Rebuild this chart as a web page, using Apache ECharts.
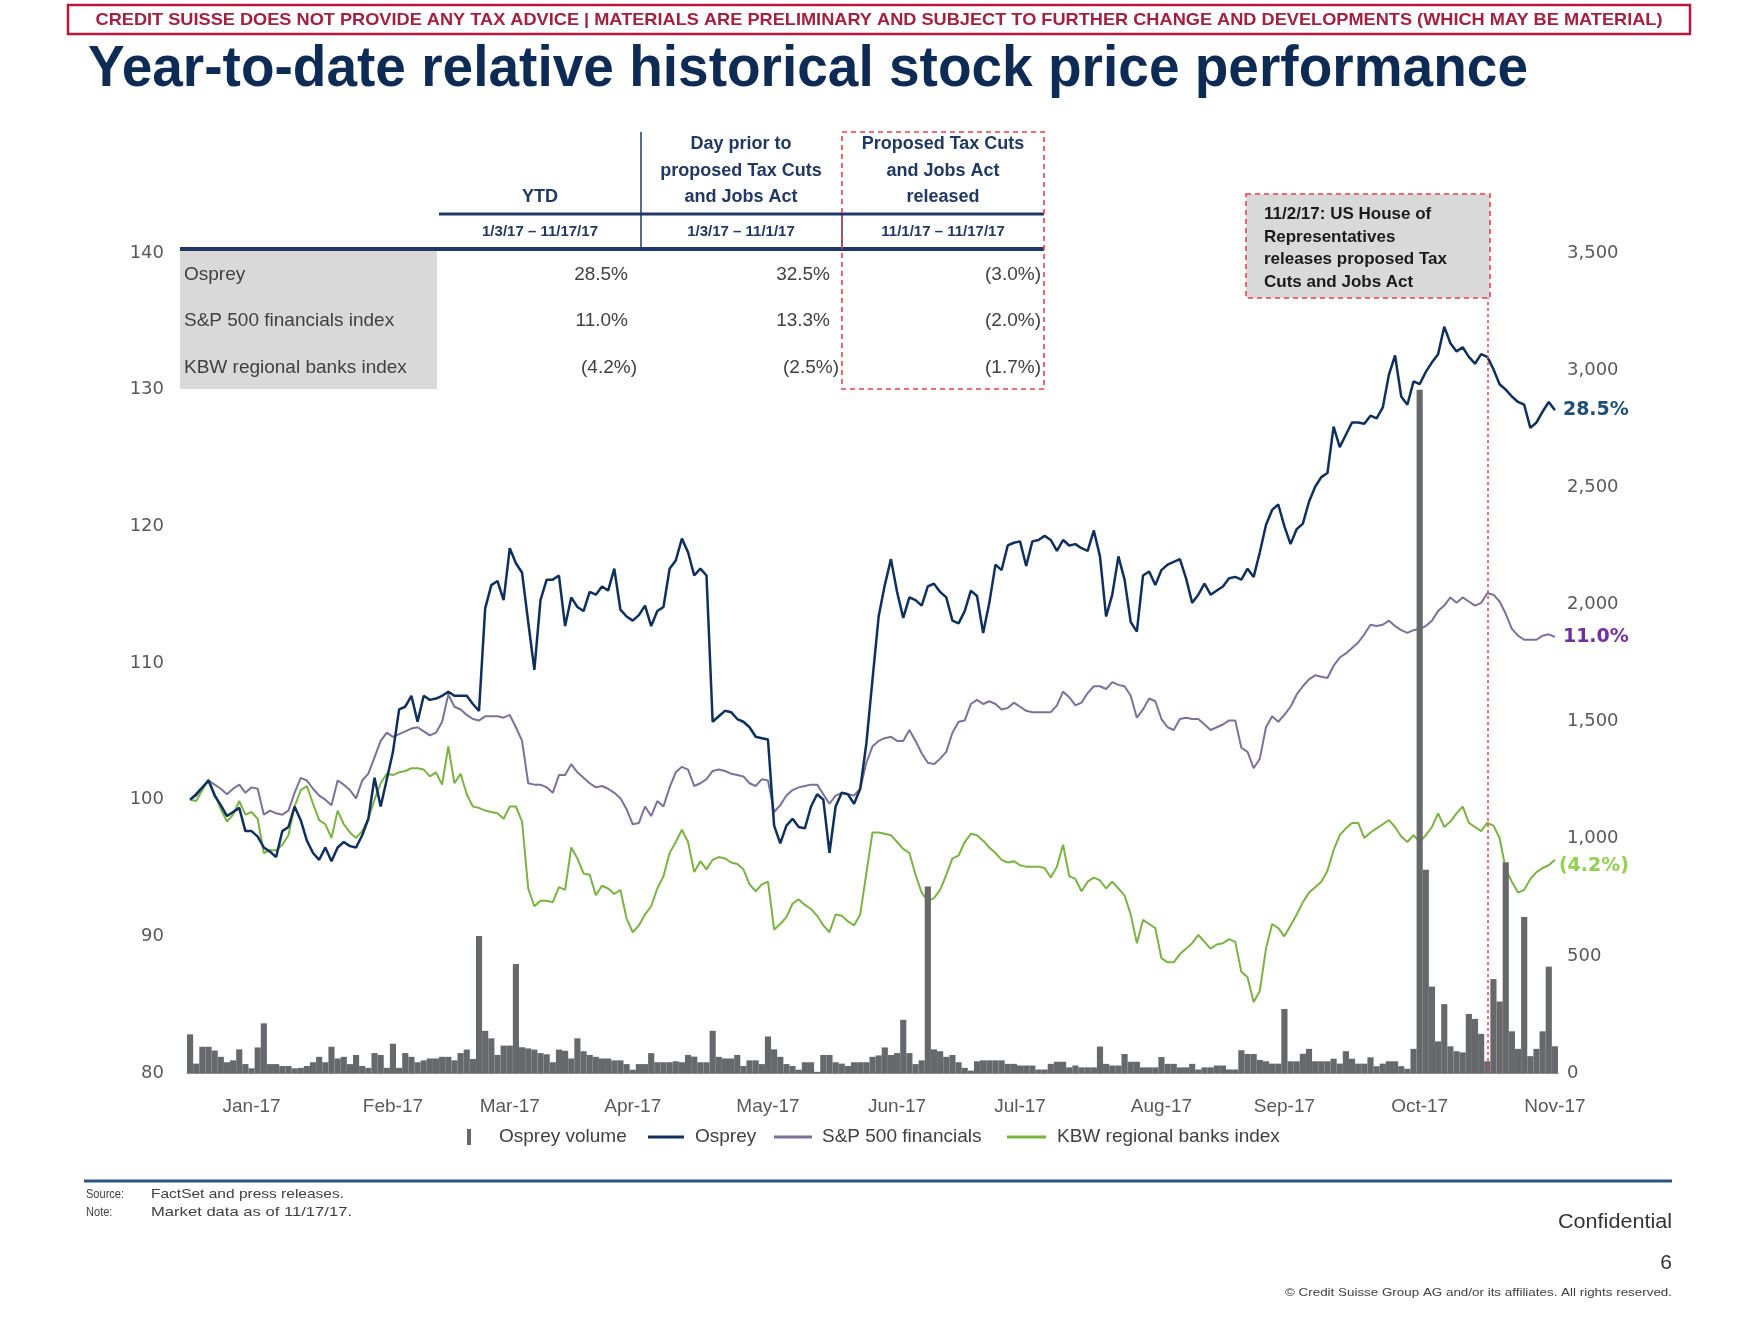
<!DOCTYPE html>
<html><head><meta charset="utf-8">
<script src="https://cdn.jsdelivr.net/npm/echarts@6/dist/echarts.min.js"></script>
<style>html,body{margin:0;padding:0;background:#fff}#c{width:1759px;height:1320px}</style>
</head><body><div id="c"></div>
<script>
// ---------------- DATA ----------------
const holidays = ['2017-01-16','2017-02-20','2017-04-14','2017-05-29','2017-07-04','2017-09-04'];
const startDate = '2017-01-03', endDate = '2017-11-17';
const eventDate = '2017-11-02';
const monthNames = ['Jan','Feb','Mar','Apr','May','Jun','Jul','Aug','Sep','Oct','Nov','Dec'];

const ospreyVals = [
100.0,100.4,100.9,101.4,100.3,99.6,98.8,99.1,99.4,97.7,
97.7,97.3,96.5,96.2,95.8,97.7,98.0,99.5,98.5,97.0,
96.1,95.6,96.5,95.5,96.5,96.9,96.6,96.5,97.4,98.6,
101.6,99.5,101.5,103.5,106.6,106.8,107.6,105.7,107.6,107.3,
107.4,107.6,107.9,107.6,107.6,107.6,107.0,106.5,114.0,115.7,
116.0,114.6,118.4,117.3,116.6,113.0,109.5,114.6,116.1,116.1,
116.4,112.7,114.8,114.1,113.8,115.2,115.0,115.6,115.3,116.9,
113.9,113.4,113.1,113.5,114.2,112.7,113.8,114.1,116.9,117.5,
119.1,118.1,116.4,116.9,116.4,105.7,106.1,106.5,106.4,105.9,
105.7,105.3,104.6,104.5,104.4,98.1,96.8,98.1,98.6,98.0,
97.9,99.5,100.4,100.0,96.1,99.5,100.5,100.4,99.7,100.8,
104.1,108.8,113.4,115.7,117.6,115.2,113.3,114.8,114.6,114.2,
115.6,115.8,115.2,114.8,113.1,112.9,113.8,115.3,114.9,112.2,
114.4,117.2,116.8,118.6,118.8,118.9,117.1,118.9,119.0,119.3,
119.0,118.2,119.0,118.6,118.7,118.4,118.2,119.7,117.8,113.4,
115.0,117.8,116.1,113.0,112.3,116.4,116.7,115.7,116.8,117.2,
117.4,117.6,116.2,114.4,115.0,115.8,115.0,115.3,115.6,116.2,
116.3,116.1,116.9,116.3,118.1,120.1,121.2,121.6,120.0,118.7,
119.8,120.2,121.8,122.9,123.6,123.9,127.3,125.8,126.7,127.6,
127.6,127.5,128.1,127.9,128.7,131.1,132.5,129.5,128.9,130.6,
130.4,131.3,132.0,132.6,134.6,133.4,132.8,133.1,132.4,131.9,
132.6,132.4,131.5,130.4,130.0,129.5,129.1,128.9,127.2,127.6,
128.4,129.1,128.5];

const spFinVals = [
100.0,100.3,100.8,101.4,101.1,100.8,100.4,100.8,101.1,100.5,
100.9,100.8,98.9,99.2,99.0,98.9,99.2,100.5,101.6,101.4,
100.8,100.3,100.0,99.6,101.4,101.1,100.7,100.1,101.4,101.9,
103.1,104.3,104.9,104.6,104.8,105.0,105.2,105.3,105.0,104.7,
104.9,105.7,107.7,106.8,106.6,106.2,105.9,105.8,106.1,106.1,
106.1,106.0,106.2,105.3,104.3,101.2,101.1,101.1,100.9,100.5,
101.8,101.8,102.6,102.0,101.6,101.2,100.9,101.0,100.8,100.5,
100.1,99.3,98.2,98.3,99.5,98.8,99.9,99.5,100.9,102.0,
102.4,102.2,101.0,101.2,101.5,102.1,102.2,102.1,101.9,101.8,
101.7,101.2,101.0,101.5,101.4,99.1,99.6,100.3,100.7,100.9,
101.0,101.1,101.1,100.4,99.7,100.3,100.5,100.4,100.3,100.8,
102.7,103.9,104.3,104.5,104.6,104.3,104.3,105.1,104.3,103.4,
102.7,102.6,103.0,103.5,104.9,105.7,105.8,107.0,107.3,107.0,
107.2,107.0,106.6,106.7,107.1,106.8,106.5,106.4,106.4,106.4,
106.4,106.9,107.9,107.5,106.9,107.1,107.8,108.3,108.3,108.1,
108.6,108.4,108.3,107.6,106.0,106.6,107.4,107.2,105.9,105.3,
105.1,105.9,106.0,105.9,105.9,105.5,105.1,105.3,105.5,105.8,
105.8,103.8,103.5,102.3,103.0,105.3,106.1,105.7,106.2,106.8,
107.7,108.3,108.8,109.1,109.0,108.9,109.8,110.4,110.7,111.1,
111.5,112.1,112.8,112.7,112.8,113.1,112.7,112.4,112.2,112.4,
112.5,112.7,113.1,113.8,114.2,114.8,114.4,114.8,114.5,114.2,
114.4,115.1,115.0,114.5,113.6,112.5,112.0,111.7,111.7,111.7,
112.0,112.1,111.9];

const kbwVals = [
100.0,99.9,100.7,101.5,100.4,99.3,98.4,98.9,99.9,98.9,
99.1,98.6,96.1,96.3,96.3,96.7,97.4,99.5,100.7,101.0,
99.7,98.5,98.2,97.2,99.2,98.2,97.6,97.2,97.7,98.6,
100.0,101.2,101.9,101.8,102.0,102.1,102.3,102.3,102.2,101.7,
102.0,101.1,103.9,101.2,101.9,100.4,99.5,99.4,99.2,99.1,
99.0,98.6,99.5,99.5,98.4,93.5,92.2,92.6,92.6,92.5,
93.6,93.4,96.5,95.7,94.6,94.5,93.0,93.7,93.5,93.1,
93.4,91.3,90.3,90.8,91.6,92.2,93.5,94.4,96.1,96.9,
97.8,96.9,94.7,95.5,94.9,95.6,95.8,95.7,95.4,95.3,
94.9,93.8,93.3,93.8,94.0,90.5,90.9,91.4,92.4,92.7,
92.3,92.0,91.5,90.8,90.3,91.6,91.5,91.1,90.8,91.6,
94.6,97.6,97.6,97.5,97.4,96.9,96.4,96.1,94.5,93.2,
92.6,92.8,93.4,94.5,95.7,95.9,96.9,97.5,97.4,97.0,
96.5,96.1,95.6,95.4,95.5,95.2,95.1,95.1,95.1,95.0,
94.3,95.1,96.7,94.4,94.2,93.3,94.0,94.3,94.1,93.5,
94.0,93.5,93.0,91.6,89.5,91.2,90.9,90.6,88.4,88.1,
88.1,88.7,89.1,89.5,90.1,89.6,89.1,89.4,89.5,89.8,
89.6,87.4,87.0,85.2,86.0,89.1,90.9,90.6,90.0,90.8,
91.6,92.5,93.2,93.6,94.0,94.8,96.3,97.4,97.9,98.3,
98.3,97.2,97.6,97.9,98.2,98.5,98.0,97.3,96.9,97.4,
96.9,97.4,98.0,99.0,98.0,98.4,99.0,99.5,98.3,98.0,
97.7,98.3,98.1,97.2,94.9,94.0,93.2,93.4,94.2,94.7,
95.0,95.2,95.6];

const ospreyVolume = [
165,40,112,112,96,69,46,54,101,38,
20,109,212,38,38,30,30,20,22,30,
46,69,46,112,62,69,38,77,30,22,
85,77,22,125,22,85,69,46,54,62,
62,69,69,54,85,100,60,585,180,148,
77,117,117,465,110,105,100,85,80,46,
100,95,62,148,93,77,69,62,62,54,
54,38,14,38,38,85,46,46,46,50,
46,77,70,46,46,180,69,62,62,77,
30,54,54,38,156,101,69,38,30,14,
46,46,5,77,77,46,40,30,46,46,
46,69,75,109,77,85,227,85,38,54,
796,101,93,69,77,46,22,10,50,54,
54,54,54,39,39,32,32,32,15,15,
39,48,48,24,32,24,24,24,113,39,
32,32,81,48,48,24,24,24,68,39,
39,24,24,39,15,24,24,32,32,15,
15,97,81,81,56,50,40,40,273,50,
50,82,103,50,50,50,61,40,93,61,
40,40,67,29,40,50,50,29,18,103,
2916,867,369,135,294,114,93,88,252,231,
167,50,401,305,900,178,103,666,72,103,
178,454,114];

const leftTicks = {min: 80, max: 140, interval: 10};
const rightTicks = {min: 0, max: 3500, interval: 500};

const tableRowNames = ['Osprey','S&P 500 financials index','KBW regional banks index'];
const ytdPct = [28.5, 11.0, -4.2];
const priorPct = [32.5, 13.3, -2.5];
const releasedPct = [-3.0, -2.0, -1.7];
const colHeaders = [['YTD'], ['Day prior to','proposed Tax Cuts','and Jobs Act'], ['Proposed Tax Cuts','and Jobs Act','released']];
const colRanges = ['1/3/17 \u2013 11/17/17','1/3/17 \u2013 11/1/17','11/1/17 \u2013 11/17/17'];
const annotationLines = ['11/2/17: US House of','Representatives','releases proposed Tax','Cuts and Jobs Act'];
const legendNames = ['Osprey volume','Osprey','S&P 500 financials','KBW regional banks index'];

// ---------------- HELPERS ----------------
function buildTradingDays(start, end, hol) {
  const out = []; const d = new Date(start + 'T00:00:00Z'); const e = new Date(end + 'T00:00:00Z');
  while (d <= e) {
    const wd = d.getUTCDay(); const s = d.toISOString().slice(0, 10);
    if (wd !== 0 && wd !== 6 && !hol.includes(s)) out.push(s);
    d.setUTCDate(d.getUTCDate() + 1);
  }
  return out;
}
const dates = buildTradingDays(startDate, endDate, holidays);
const labelIdx = new Set();
(function () {
  const byMonth = {};
  dates.forEach((s, i) => { const m = s.slice(0, 7); (byMonth[m] = byMonth[m] || []).push(i); });
  Object.keys(byMonth).forEach(m => {
    const idxs = byMonth[m];
    const hit = idxs.find(i => +dates[i].slice(8, 10) >= 18);
    labelIdx.add(hit !== undefined ? hit : idxs[idxs.length - 1]);
  });
})();

const pct = v => v < 0 ? '(' + Math.abs(v).toFixed(1) + '%)' : v.toFixed(1) + '%';
const mctx = document.createElement('canvas').getContext('2d');
function fit(text, weight, size, family, target) {
  mctx.font = weight + ' ' + size + 'px "' + family + '"';
  return target / mctx.measureText(text).width;
}

const C = {
  navy: '#1f3864', osprey: '#0f2f5f', sp: '#7b7199', kbw: '#7bb342', vol: '#66686b',
  red: '#e8414b', gray: '#d9d9d9', text: '#404040', axis: '#595959'
};
const SANS = 'Liberation Sans', WIDE = 'DejaVu Sans';

function T(x, y, text, o) {
  o = o || {};
  return { type: 'text', x: x, y: y, scaleX: o.sx || 1, z: o.z || 100, silent: true,
    style: { text: text, fill: o.fill || C.text, fontSize: o.size || 18, fontFamily: o.family || SANS,
      fontWeight: o.weight || 'normal', align: o.align || 'left', verticalAlign: 'middle' } };
}
function L(x1, y1, x2, y2, stroke, w, dash, z) {
  return { type: 'line', z: z || 90, silent: true, shape: { x1, y1, x2, y2 },
    style: { stroke: stroke, lineWidth: w, lineDash: dash || null } };
}
function R(x, y, w, h, st, z) {
  return { type: 'rect', z: z || 80, silent: true, shape: { x, y, width: w, height: h }, style: st };
}

// ---------------- GRAPHICS ----------------
const g = [];
const banner = 'CREDIT SUISSE DOES NOT PROVIDE ANY TAX ADVICE | MATERIALS ARE PRELIMINARY AND SUBJECT TO FURTHER CHANGE AND DEVELOPMENTS (WHICH MAY BE MATERIAL)';
g.push(R(68, 5, 1622, 29, { fill: 'none', stroke: '#b8173f', lineWidth: 2.5 }));
g.push(T(879, 20, banner, { size: 17, weight: 'bold', family: SANS, fill: '#a3203f', align: 'center', sx: fit(banner, 'bold', 17, SANS, 1567) }));
const title = 'Year-to-date relative historical stock price performance';
g.push(T(88, 70, title, { size: 57, weight: 'bold', family: SANS, fill: '#0e2b55', sx: fit(title, 'bold', 57, SANS, 1440) }));

const colCenters = [540, 741, 943];
const headerYs = [144, 171, 197];
colHeaders.forEach((lines, c) => {
  const off = 3 - lines.length;
  lines.forEach((ln, k) => g.push(T(colCenters[c], headerYs[k + off], ln, { size: 18, weight: 'bold', fill: C.navy, align: 'center' })));
  g.push(T(colCenters[c], 232, colRanges[c], { size: 15, weight: 'bold', fill: C.navy, align: 'center' }));
});
g.push(L(439, 214, 1044, 214, C.navy, 3));
g.push(L(641, 132, 641, 249, C.navy, 1.5));
g.push(L(842, 214, 842, 249, C.navy, 1.5));
g.push(L(180, 249, 1044, 249, C.navy, 4));
g.push(R(180, 251, 257, 138, { fill: C.gray }, 70));
const rowYs = [275, 321, 368];
tableRowNames.forEach((n, r) => g.push(T(184, rowYs[r], n, { size: 19, fill: C.text })));
const colRight = [637, 839, 1041];
[ytdPct, priorPct, releasedPct].forEach((arr, c) => {
  arr.forEach((v, r) => g.push(T(colRight[c] - (v < 0 ? 0 : 9), rowYs[r], pct(v), { size: 19, fill: C.text, align: 'right' })));
});
g.push(R(842, 132, 202, 257, { fill: 'none', stroke: C.red, lineWidth: 1.6, lineDash: [5, 4] }, 95));

g.push(R(1246, 194, 244, 104, { fill: C.gray, stroke: C.red, lineWidth: 1.6, lineDash: [5, 4] }, 95));
const annYs = [214, 237, 259, 282];
annotationLines.forEach((ln, k) => g.push(T(1264, annYs[k], ln, { size: 17, weight: 'bold', fill: '#1a1a1a' })));

g.push(R(467, 1129, 4, 16, { fill: C.vol }, 90));
g.push(T(499, 1137, legendNames[0], { size: 19 }));
g.push(L(648, 1137, 684, 1137, C.osprey, 3));
g.push(T(695, 1137, legendNames[1], { size: 19 }));
g.push(L(774, 1137, 812, 1137, C.sp, 3));
g.push(T(822, 1137, legendNames[2], { size: 19 }));
g.push(L(1007, 1137, 1046, 1137, C.kbw, 3));
g.push(T(1057, 1137, legendNames[3], { size: 19 }));

g.push(L(84, 1181, 1672, 1181, '#2b557f', 3));
const src = 'FactSet and press releases.', note = 'Market data as of 11/17/17.';
g.push(T(86, 1194, 'Source:', { size: 13, sx: 0.85 }));
g.push(T(151, 1194, src, { size: 13, sx: fit(src, 'normal', 13, SANS, 193) }));
g.push(T(86, 1212, 'Note:', { size: 13, sx: 0.85 }));
g.push(T(151, 1212, note, { size: 13, sx: fit(note, 'normal', 13, SANS, 201) }));
g.push(T(1672, 1222, 'Confidential', { size: 20, fill: '#333', align: 'right', sx: fit('Confidential', 'normal', 20, SANS, 114) }));
g.push(T(1672, 1263, '6', { size: 21, fill: '#333', align: 'right' }));
const copy = '\u00a9 Credit Suisse Group AG and/or its affiliates. All rights reserved.';
g.push(T(1672, 1293, copy, { size: 11, fill: C.text, align: 'right', sx: fit(copy, 'normal', 11, SANS, 387) }));

// ---------------- CHART ----------------
const chart = echarts.init(document.getElementById('c'), null, { renderer: 'canvas' });
const lineBase = { type: 'line', yAxisIndex: 0, showSymbol: false, symbol: 'none', smooth: false, z: 3 };
chart.setOption({
  animation: false,
  backgroundColor: '#ffffff',
  grid: { left: 187, right: 201, top: 253, bottom: 247 },
  xAxis: {
    type: 'category', data: dates, boundaryGap: true,
    axisLine: { show: true, lineStyle: { color: '#8c8c8c', width: 1 } },
    axisTick: { show: false },
    splitLine: { show: false },
    axisLabel: {
      interval: (i) => labelIdx.has(i), margin: 24, color: C.axis, fontSize: 19, fontFamily: SANS,
      formatter: (v) => monthNames[+v.slice(5, 7) - 1] + '-' + v.slice(2, 4)
    }
  },
  yAxis: [
    { type: 'value', position: 'left', min: leftTicks.min, max: leftTicks.max, interval: leftTicks.interval,
      axisLine: { show: false }, axisTick: { show: false }, splitLine: { show: false },
      axisLabel: { margin: 23, color: C.axis, fontSize: 18, fontFamily: WIDE } },
    { type: 'value', position: 'right', min: rightTicks.min, max: rightTicks.max, interval: rightTicks.interval,
      axisLine: { show: false }, axisTick: { show: false }, splitLine: { show: false },
      axisLabel: { margin: 9, color: C.axis, fontSize: 18, fontFamily: WIDE,
        formatter: (v) => v.toLocaleString('en-US') } }
  ],
  series: [
    { name: legendNames[0], type: 'bar', yAxisIndex: 1, data: ospreyVolume, barCategoryGap: '0%', z: 4,
      itemStyle: { color: C.vol },
      markLine: { silent: true, symbol: ['none', 'none'], label: { show: false },
        lineStyle: { color: C.red, type: [3, 3], width: 1.5 }, data: [{ xAxis: eventDate }] } },
    Object.assign({}, lineBase, { name: legendNames[2], data: spFinVals, lineStyle: { color: C.sp, width: 2 },
      endLabel: { show: true, formatter: pct(ytdPct[1]), color: '#7030a0', fontFamily: WIDE, fontWeight: 'bold', fontSize: 19, distance: 8 } }),
    Object.assign({}, lineBase, { name: legendNames[3], data: kbwVals, lineStyle: { color: C.kbw, width: 2 },
      endLabel: { show: true, formatter: pct(ytdPct[2]), color: '#92d050', fontFamily: WIDE, fontWeight: 'bold', fontSize: 19, distance: 4, offset: [0, 6] } }),
    Object.assign({}, lineBase, { name: legendNames[1], data: ospreyVals, lineStyle: { color: C.osprey, width: 2.5 },
      endLabel: { show: true, formatter: pct(ytdPct[0]), color: '#1f4e79', fontFamily: WIDE, fontWeight: 'bold', fontSize: 19, distance: 8 } })
  ],
  graphic: { elements: g }
});
</script></body></html>
